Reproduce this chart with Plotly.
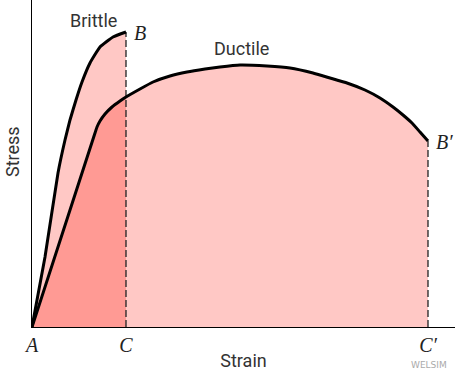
import plotly.graph_objects as go

# Data (arbitrary strain / stress units)
brittle_strain = [0, 0.13, 0.26, 0.33, 0.38, 0.44, 0.50, 0.58, 0.68, 0.81, 0.94]
brittle_stress = [0, 0.70, 1.54, 1.87, 2.07, 2.27, 2.45, 2.64, 2.80, 2.90, 2.95]

ductile_strain = [0, 0.63, 0.65, 0.68, 0.73, 0.80, 0.88, 0.94, 1.08, 1.21, 1.38, 1.55,
                  1.73, 1.88, 2.08, 2.35, 2.58, 2.81, 2.98, 3.15, 3.33, 3.48, 3.61,
                  3.71, 3.80, 3.88, 3.96]
ductile_stress = [0, 1.94, 2.00, 2.06, 2.13, 2.20, 2.26, 2.30, 2.38, 2.45, 2.51, 2.55,
                  2.58, 2.60, 2.62, 2.61, 2.59, 2.54, 2.49, 2.44, 2.37, 2.29, 2.20,
                  2.12, 2.04, 1.95, 1.86]

tick_vals = [0, 0.94, 3.96]
tick_text = ["A", "C", "C′"]

LIGHT = "rgb(255,200,197)"
DARK = "rgb(255,154,148)"

fig = go.Figure()

# light fills
fig.add_trace(go.Scatter(x=ductile_strain, y=ductile_stress, fill="tozeroy",
                         fillcolor=LIGHT, line=dict(width=0), mode="lines",
                         hoverinfo="skip"))
fig.add_trace(go.Scatter(x=brittle_strain, y=brittle_stress, fill="tozeroy",
                         fillcolor=LIGHT, line=dict(width=0), mode="lines",
                         hoverinfo="skip"))
# dark overlap region
c_strain = brittle_strain[-1]
dx = [x for x in ductile_strain if x <= c_strain]
dy = ductile_stress[:len(dx)]
fig.add_trace(go.Scatter(x=dx, y=dy, fill="tozeroy", fillcolor=DARK,
                         line=dict(width=0), mode="lines", hoverinfo="skip"))

# dashed verticals
fig.add_trace(go.Scatter(x=[brittle_strain[-1], brittle_strain[-1]], y=[0, brittle_stress[-1]],
                         mode="lines", line=dict(color="#222", width=1.3, dash="7px,3px")))
fig.add_trace(go.Scatter(x=[ductile_strain[-1], ductile_strain[-1]], y=[0, ductile_stress[-1]],
                         mode="lines", line=dict(color="#222", width=1.3, dash="7px,3px")))

# curves
fig.add_trace(go.Scatter(x=brittle_strain, y=brittle_stress, mode="lines",
                         line=dict(color="black", width=3, shape="spline", smoothing=0.4)))
fig.add_trace(go.Scatter(x=ductile_strain, y=ductile_stress, mode="lines",
                         line=dict(color="black", width=3, shape="spline", smoothing=0.3)))

lab_font = dict(family="Roboto", size=18, color="#333")
ital = dict(family="Liberation Serif", size=20, color="#222", style="italic")

fig.add_annotation(x=0.61, y=3.07, text="Brittle", showarrow=False, font=lab_font)
fig.add_annotation(x=2.09, y=2.79, text="Ductile", showarrow=False, font=lab_font)
fig.add_annotation(x=brittle_strain[-1], y=brittle_stress[-1], text="B", showarrow=False,
                   font=ital, xanchor="left", xshift=6, yshift=-1)
fig.add_annotation(x=ductile_strain[-1], y=ductile_stress[-1], text="B′", showarrow=False,
                   font=ital, xanchor="left", xshift=6, yshift=-1)
fig.add_annotation(xref="paper", x=0, y=1.75, text="Stress", showarrow=False,
                   font=lab_font, textangle=-90, xshift=-20,
                   xanchor="center", yanchor="middle")
fig.add_annotation(xref="paper", yref="paper", x=1.0, y=0, text="WELSIM", showarrow=False,
                   font=dict(family="DejaVu Sans", size=9, color="#aaa"),
                   xanchor="right", yanchor="top", yshift=-31, xshift=-6)

fig.update_layout(
    width=462, height=371,
    margin=dict(l=32, r=7, t=0, b=44),
    plot_bgcolor="white", paper_bgcolor="white",
    showlegend=False,
    xaxis=dict(range=[0, 4.23], showgrid=False, zeroline=False,
               showline=True, linecolor="black", linewidth=1,
               tickvals=tick_vals, ticktext=tick_text, ticks="",
               tickfont=ital,
               title=dict(text="Strain", font=lab_font, standoff=0)),
    yaxis=dict(range=[0, 3.27], showgrid=False, zeroline=False,
               showline=True, linecolor="black", linewidth=1,
               showticklabels=False, ticks=""),
)

fig.write_html("out.html")
